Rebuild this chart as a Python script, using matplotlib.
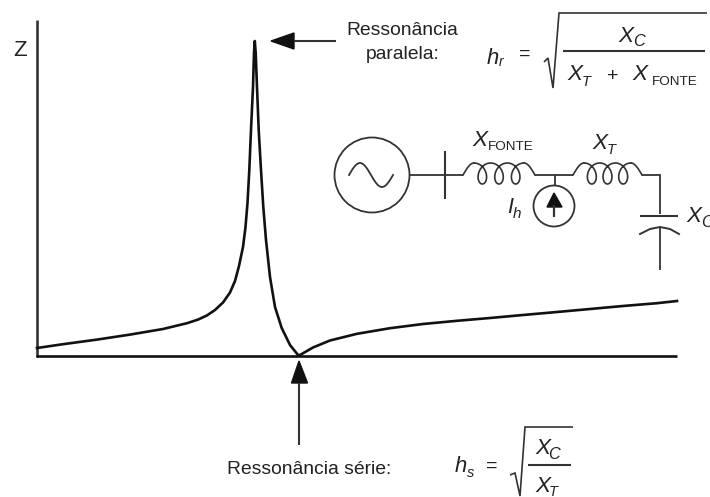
import numpy as np
import matplotlib
matplotlib.use("Agg")
import matplotlib.pyplot as plt
from matplotlib.patches import Circle, Polygon

# impedance curve in pixels
curve_x = [37, 63, 97, 130, 163, 187, 198, 207, 215, 223, 230, 235, 239, 243, 245.5, 247.5, 249.3, 251, 253, 254, 254.8,
           255.7, 257, 258.7, 261, 263.3, 266, 270, 275, 281.7, 290, 298,
           300, 313, 330, 357, 390, 423, 457, 490, 523, 557, 590, 623, 657, 677]
curve_y = [348, 344.2, 339.6, 334.6, 329, 323.2, 319.6, 315.4, 310, 302.5, 292.5, 281, 266, 247, 227, 203, 170, 130, 87, 53, 41,
           53, 87, 130, 170, 207, 240, 277, 307, 328, 345, 355,
           355, 347.5, 340.5, 333.8, 328.2, 324, 320.8, 318, 315, 312, 309, 306, 303.2, 301]

ink = "#111111"
grey = "#333333"

plt.rcParams["font.family"] = ["Liberation Sans", "DejaVu Sans"]

fig = plt.figure(figsize=(7.1, 4.97), dpi=100)
ax = fig.add_axes([0, 0, 1, 1])
ax.set_xlim(0, 710)
ax.set_ylim(497, 0)
ax.axis("off")


def line(xs, ys, lw=1.3, color=grey):
    ax.plot(xs, ys, color=color, lw=lw, solid_capstyle="butt", solid_joinstyle="miter")


def label(x, y, s, size=13.9, style="normal", ha="left"):
    ax.text(x, y, s, fontsize=size, style=style, ha=ha, va="baseline", color="#222222")


def coil(x0, x1, y):
    # leads curve up to the first and last hump, three loops hang between them
    pitch = (x1 - x0 - 22) / 3
    top = y - 12
    lead = np.linspace(0, np.pi / 2, 20)
    ax.plot(x0 + 11 * lead / (np.pi / 2), y - 12 * np.sin(lead), color=grey, lw=1.2)
    th = np.linspace(0, 6 * np.pi, 400)
    ax.plot(x0 + 11 + pitch * th / (2 * np.pi) + 8 * np.sin(th),
            top + 10.5 * (1 - np.cos(th)), color=grey, lw=1.2)
    ax.plot(x1 - 11 * lead / (np.pi / 2), y - 12 * np.sin(lead), color=grey, lw=1.2)


# axes and curve
line([36.5, 36.5], [20, 357], lw=1.9, color=grey)
line([36, 677], [356, 356], lw=1.9, color=ink)
ax.plot(curve_x, curve_y, color=ink, lw=1.9)
label(13, 56.5, "Z", size=16)

# arrows
line([294, 336], [41, 41], lw=1.5)
ax.add_patch(Polygon([[271, 41], [294, 33], [294, 49]], color=ink))
line([299, 299], [383, 445], lw=1.5)
ax.add_patch(Polygon([[299, 361], [291.5, 383], [307.5, 383]], color=ink))

# texts
label(402.5, 35, "Ressonância", ha="center")
label(403, 59, "paralela:", ha="center")
label(227, 474, "Ressonância série:")

# h_r formula
label(487, 64, "h", size=15.8, style="italic")
label(498.5, 66, "r", size=10, style="italic")
label(519, 59, "=", size=14)
line([544, 548, 553, 559, 707], [62, 58, 88, 13, 13], lw=1.2)
label(618, 42, "X", size=16.2, style="italic")
label(633, 46.5, "C", size=11.7, style="italic")
line([563, 705], [51, 51], lw=1.5)
label(567, 80, "X", size=16.2, style="italic")
label(582, 86, "T", size=10.5, style="italic")
label(607, 81, "+", size=14)
label(632, 80, "X", size=16.2, style="italic")
label(652, 85, "FONTE", size=9.7)

# h_s formula
label(455, 472, "h", size=15.8, style="italic")
label(467, 477, "s", size=10.5, style="italic")
label(486, 471, "=", size=14)
line([510, 515, 520, 525, 573], [475, 473, 496, 427, 427], lw=1.2)
label(535, 454, "X", size=16.2, style="italic")
label(548.5, 459, "C", size=11.7, style="italic")
line([528, 571], [465, 465], lw=1.5)
label(535, 492, "X", size=16.2, style="italic")
label(549, 496.5, "T", size=10.5, style="italic")

# source and bus
ax.add_patch(Circle((372, 175), 37.5, fill=False, ec=grey, lw=1.3))
t = np.linspace(0, 2 * np.pi, 60)
ax.plot(371 + 22 * (t / np.pi - 1), 175 - 12 * np.sin(t), color=grey, lw=1.3)
line([409, 463], [175, 175])
line([445, 445], [151, 199], lw=1.5)

# series elements
coil(463, 535, 175)
line([535, 573], [175, 175])
line([555, 555], [175, 186])
coil(573, 642, 175)
line([642, 660, 660], [175, 175, 214])

# harmonic source
ax.add_patch(Circle((554, 206), 20.5, fill=False, ec=grey, lw=1.3))
line([554, 554], [205, 217], lw=1.6)
ax.add_patch(Polygon([[554, 193], [547, 207], [562, 207]], color=ink))
label(507, 213, "I", size=15.5, style="italic")
label(513, 218, "h", size=11, style="italic")

# capacitor
line([640, 678], [216, 216], lw=1.5)
ax.plot([640, 650, 660, 670, 679], [234, 229, 227, 229, 234], color=grey, lw=1.4)
line([660, 660], [227, 270])

label(686, 222, "X", size=16.2, style="italic")
label(701, 227, "C", size=11.7, style="italic")
label(472, 146, "X", size=16.2, style="italic")
label(488, 150, "FONTE", size=9.7)
label(592, 149, "X", size=16.2, style="italic")
label(607, 154, "T", size=10.5, style="italic")

fig.savefig("out.png", dpi=100)
